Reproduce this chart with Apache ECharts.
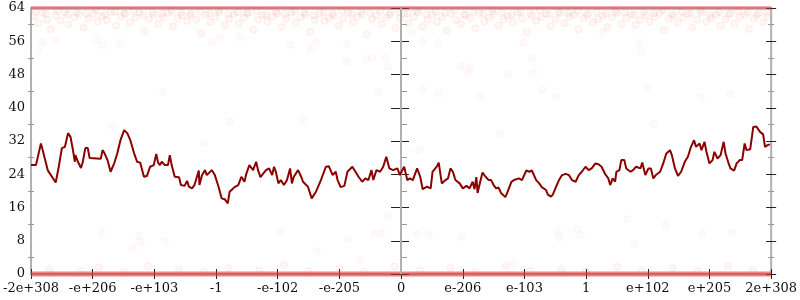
<!DOCTYPE html>
<html>
<head>
<meta charset="utf-8">
<script src="https://cdn.jsdelivr.net/npm/echarts@6/dist/echarts.min.js"></script>
<style>html,body{margin:0;padding:0;background:#fff}#c{width:800px;height:300px}</style>
</head>
<body>
<div id="c"></div>
<script>
var xTickLabels = ['-2e+308','-e+206','-e+103','-1','-e-102','-e-205','0','e-206','e-103','1','e+102','e+205','2e+308'];
var yTicks = [0, 8, 16, 24, 32, 40, 48, 56, 64];

var lineX = [-6.00,-5.92,-5.84,-5.81,-5.73,-5.60,-5.55,-5.50,-5.45,-5.40,-5.37,-5.36,-5.32,-5.29,-5.28,-5.24,-5.19,-5.16,-5.12,-5.08,-5.05,-4.87,-4.84,-4.81,-4.76,-4.71,-4.65,-4.60,-4.55,-4.49,-4.44,-4.39,-4.33,-4.28,-4.23,-4.17,-4.12,-4.07,-4.01,-3.97,-3.94,-3.91,-3.88,-3.83,-3.78,-3.75,-3.72,-3.67,-3.60,-3.57,-3.51,-3.47,-3.44,-3.39,-3.35,-3.28,-3.27,-3.23,
-3.18,-3.15,-3.07,-3.02,-2.96,-2.91,-2.86,-2.81,-2.78,-2.70,-2.64,-2.59,-2.54,-2.51,-2.46,-2.40,-2.35,-2.32,-2.28,-2.24,-2.19,-2.14,-2.09,-2.06,-2.03,-1.99,-1.95,-1.90,-1.85,-1.80,-1.77,-1.74,-1.67,-1.62,-1.59,-1.56,-1.51,-1.45,-1.38,-1.30,-1.22,-1.17,-1.11,-1.06,-1.03,-0.98,-0.92,-0.87,-0.79,-0.74,-0.69,-0.63,-0.58,-0.53,-0.48,-0.45,-0.40,-0.34,-0.29,-0.24,-0.19,-0.13,-0.06,-0.02,
0.05,0.10,0.14,0.19,0.26,0.31,0.35,0.42,0.48,0.51,0.58,0.61,0.66,0.72,0.76,0.80,0.84,0.88,0.95,1.00,1.06,1.11,1.16,1.19,1.22,1.24,1.27,1.32,1.37,1.42,1.46,1.50,1.54,1.58,1.62,1.69,1.72,1.79,1.83,1.91,1.96,2.03,2.08,2.12,2.19,2.24,2.28,2.35,2.38,2.43,2.46,2.51,2.56,2.61,2.67,2.72,2.77,2.83,2.88,2.93,2.99,3.04,3.09,3.15,3.20,
3.25,3.31,3.36,3.39,3.43,3.47,3.49,3.54,3.57,3.62,3.65,3.72,3.76,3.81,3.88,3.91,3.96,4.01,4.05,4.09,4.13,4.20,4.25,4.30,4.36,4.39,4.44,4.49,4.54,4.60,4.65,4.70,4.75,4.78,4.84,4.87,4.92,4.95,5.00,5.05,5.08,5.13,5.18,5.23,5.26,5.31,5.34,5.40,5.44,5.49,5.53,5.57,5.60,5.66,5.71,5.76,5.82,5.87,5.90,5.94,5.98];
var lineY = [26.2,26.2,31.4,29.8,25.0,22.0,25.8,30.3,30.6,33.9,34.2,33.0,29.8,27.0,28.6,27.0,25.5,27.0,30.3,30.3,27.9,27.7,29.8,29.1,27.4,24.6,26.7,29.1,32.2,34.6,33.9,32.2,29.1,27.0,26.8,23.4,23.6,25.8,26.2,28.9,26.8,26.2,27.0,26.2,26.2,28.6,26.2,23.4,23.3,21.4,21.2,22.4,21.0,20.6,21.4,24.9,21.4,23.7,
25.0,23.8,25.0,23.8,21.0,18.2,18.0,17.0,19.8,20.9,21.4,23.4,22.2,24.1,26.2,25.0,27.0,25.0,23.3,24.1,25.0,25.4,23.8,25.8,24.6,21.8,22.6,21.4,22.6,25.4,21.8,23.4,25.0,23.4,22.2,22.6,21.0,18.2,19.8,22.6,25.8,25.9,23.8,24.6,22.6,20.9,21.2,24.6,25.8,24.6,23.4,22.2,23.0,22.6,25.0,22.6,25.0,24.6,25.8,28.2,25.4,25.0,25.4,23.8,
25.8,22.6,23.0,22.6,25.4,23.4,20.4,21.0,20.6,24.6,25.9,26.8,21.8,22.6,23.0,25.4,24.6,22.6,21.8,20.6,21.2,20.6,22.2,20.4,23.3,19.5,21.4,24.4,23.4,22.6,22.6,21.4,20.6,20.8,19.5,18.5,19.5,22.2,22.6,23.0,22.6,24.9,24.6,24.9,22.6,21.8,20.9,20.2,19.1,18.6,19.1,20.9,22.6,23.8,24.1,23.8,22.6,22.2,23.8,24.6,25.8,25.0,25.4,26.6,26.4,
25.8,24.0,23.0,21.4,23.0,22.2,24.6,25.0,27.4,27.4,25.4,24.6,25.0,25.8,25.4,26.8,23.8,25.4,25.4,23.0,23.8,24.6,26.6,29.0,29.8,28.6,25.4,23.6,24.6,27.0,28.2,30.6,32.2,30.6,31.4,29.8,31.8,29.4,26.6,27.4,29.4,27.8,28.6,31.8,29.0,26.6,25.4,24.9,26.6,27.4,27.4,31.4,29.8,30.0,35.4,35.5,34.2,33.6,30.6,31.0,31.2];

var bandBottom = [[-6, 0], [6, 0]];
var bandTop = [[-6, 64], [6, 64]];

var topCluster = [[-5.95,62.1],[-5.88,60.4],[-5.81,62.8],[-5.74,61.2],[-5.68,58.9],[-5.6,62.3],[-5.52,61.0],[-5.45,62.9],[-5.39,60.1],[-5.3,61.8],[-5.22,62.5],[-5.15,59.3],[-5.07,61.4],[-4.99,62.7],[-4.92,60.7],[-4.85,62.0],[-4.77,61.1],[-4.7,63.0],[-4.62,59.8],[-4.55,61.9],[-4.47,62.6],[-4.4,60.5],[-4.31,61.6],[-4.24,62.9],[-4.16,58.4],[-4.09,61.3],[-4.01,62.4],[-3.93,60.2],[-3.86,61.8],[-3.78,62.8],[-3.7,59.6],[-3.63,61.5],[-3.55,62.2],[-3.47,60.9],[-3.4,62.7],[-3.32,61.2],[-3.25,57.9],[-3.17,62.4],[-3.09,60.6],[-3.01,61.9],[-2.94,62.9],[-2.86,59.9],[-2.79,61.4],[-2.71,62.5],[-2.63,60.3],[-2.55,61.7],[-2.48,62.8],[-2.4,58.8],[-2.32,61.2],[-2.25,62.3],[-2.17,60.8],[-2.09,61.9],[-2.01,62.6],[-1.94,59.4],[-1.86,61.5],[-1.78,62.9],[-1.71,60.4],[-1.63,61.8],[-1.55,62.4],[-1.47,58.2],[-1.4,61.1],[-1.32,62.7],[-1.24,60.9],[-1.17,61.6],[-1.09,62.2],[-1.01,59.7],[-0.94,61.4],[-0.86,62.8],[-0.78,60.6],[-0.71,61.9],[-0.63,62.5],[-0.55,57.6],[-0.47,61.3],[-0.4,62.2],[-0.32,60.1],[-0.24,61.7],[-0.17,62.9],[-0.09,59.2],[-0.02,61.5],
[0.05,62.6],[0.12,60.3],[0.2,61.8],[0.28,62.9],[0.35,59.5],[0.43,61.2],[0.51,62.4],[0.58,60.7],[0.66,61.9],[0.74,58.6],[0.81,62.7],[0.89,61.1],[0.97,60.2],[1.04,62.3],[1.12,61.6],[1.2,59.1],[1.27,62.8],[1.35,60.8],[1.43,61.7],[1.5,62.5],[1.58,59.8],[1.66,61.3],[1.73,62.1],[1.81,60.5],[1.89,62.9],[1.96,61.4],[2.04,58.3],[2.12,62.2],[2.19,60.9],[2.27,61.8],[2.35,62.6],[2.42,59.6],[2.5,61.2],[2.58,62.8],[2.65,60.3],[2.73,61.9],[2.81,62.4],[2.88,58.9],[2.96,61.5],[3.04,62.7],[3.11,60.6],[3.19,61.3],[3.27,62.2],[3.34,59.4],[3.42,61.8],[3.5,62.9],[3.57,60.1],[3.65,61.6],[3.73,62.5],[3.8,59.9],[3.88,61.1],[3.96,62.3],[4.03,60.7],[4.11,61.9],[4.19,62.8],[4.26,58.7],[4.34,61.4],[4.42,62.1],[4.49,60.4],[4.57,61.7],[4.65,62.6],[4.72,59.3],[4.8,61.2],[4.88,62.9],[4.95,60.8],[5.03,61.6],[5.11,62.4],[5.18,59.7],[5.26,61.3],[5.34,62.7],[5.41,60.2],[5.49,61.8],[5.57,62.3],[5.64,59.0],[5.72,61.5],[5.8,62.8],[5.87,60.6],[5.94,61.9]];

var topRow = [[-5.92,63.1],[-5.76,62.6],[-5.57,63.3],[-5.41,62.4],[-5.26,63.0],[-5.1,62.7],[-4.95,63.4],[-4.8,62.5],[-4.64,63.1],[-4.49,62.8],[-4.34,63.3],[-4.18,62.4],[-4.03,63.0],[-3.88,62.6],[-3.72,63.2],[-3.57,62.9],[-3.42,62.3],[-3.26,63.1],[-3.11,62.7],[-2.96,63.4],[-2.8,62.5],[-2.65,63.0],[-2.5,62.8],[-2.34,63.3],[-2.19,62.4],[-2.03,63.1],[-1.88,62.6],[-1.73,63.2],[-1.57,62.9],[-1.42,62.3],[-1.26,63.0],[-1.11,62.7],[-0.96,63.4],[-0.8,62.5],[-0.65,63.1],[-0.5,62.8],[-0.34,63.3],[-0.19,62.4],[-0.04,63.0],
[0.1,62.7],[0.25,63.3],[0.41,62.5],[0.56,63.1],[0.71,62.8],[0.87,63.4],[1.02,62.4],[1.17,63.0],[1.33,62.6],[1.48,63.2],[1.63,62.9],[1.79,62.3],[1.94,63.1],[2.09,62.7],[2.25,63.4],[2.4,62.5],[2.55,63.0],[2.71,62.8],[2.86,63.3],[3.01,62.4],[3.17,63.1],[3.32,62.6],[3.47,63.2],[3.63,62.9],[3.78,62.3],[3.93,63.0],[4.09,62.7],[4.24,63.4],[4.39,62.5],[4.55,63.1],[4.7,62.8],[4.85,63.3],[5.01,62.4],[5.16,63.0],[5.31,62.6],[5.47,63.2],[5.62,62.9],[5.77,62.3],[5.92,63.1]];

var sparsePoints = [[-5.88,53.7],[-5.81,55.8],[-5.6,56.3],[-4.92,56.3],[-4.83,55.1],[-4.55,55.6],[-3.86,43.8],[-3.07,55.9],[-2.94,57.0],[-2.62,57.0],[-1.79,55.1],[-1.48,54.4],[-1.38,55.8],[-0.88,51.0],[-0.87,55.3],[-0.56,51.7],[-0.47,52.0],[-0.24,52.0],[-0.22,49.8],[-0.37,43.8],
[0.18,58.0],[0.35,56.0],[0.61,55.6],[0.97,50.0],[1.11,49.8],[1.09,48.4],[1.98,55.6],[2.14,48.4],[2.12,52.0],[1.74,48.1],[0.35,44.5],[0.61,43.5],[1.27,42.6],[2.28,44.3],[2.51,42.6],[3.27,58.2],[3.89,53.7],[3.86,55.6],[3.99,44.8],[4.86,42.6],[5.34,43.3],
[-4.68,35.8],[-2.78,36.6],[-4.86,9.9],[-4.25,9.2],[-4.22,7.7],[-4.35,6.3],[-3.83,7.9],[-1.96,10.1],[-1.37,5.5],[-0.87,8.4],[-0.43,9.6],[-0.32,9.9],[-0.66,3.4],[-0.21,13.9],
[0.26,9.6],[0.45,9.4],[0.98,8.9],[1.82,2.4],[2.53,10.3],[2.57,8.9],[2.85,10.8],[2.91,9.4],[3.67,13.2],[4.3,12.0],[4.89,9.6],[5.36,9.9],[3.78,7.2],[0.29,29.8],[-3.2,31.5],[-1.6,37.2],[1.6,33.8],[4.1,36.1]];

var bottomHalo = [[-5.7,1.2],[-5.2,0.8],[-4.9,1.6],[-4.5,0.6],[-4.1,1.9],[-3.6,1.0],[-3.2,0.5],[-2.8,1.4],[-2.3,0.9],[-1.9,2.2],[-1.5,0.7],[-1.0,1.3],[-0.6,0.6],[-0.1,1.8],[0.3,0.9],[0.8,1.5],[1.2,0.6],[1.7,2.0],[2.1,0.8],[2.6,1.2],[3.0,0.5],[3.5,1.7],[3.9,0.9],[4.4,1.4],[4.8,0.7],[5.3,1.9],[5.7,1.0]];

var lineData = lineX.map(function (x, i) { return [x, lineY[i]]; });
var FONT = 'DejaVu Serif';

function yAx(pos, offset, major, minor, labels) {
  return {
    type: 'value', position: pos, offset: offset, min: 0, max: 64, interval: 8,
    axisLine: { show: false },
    splitLine: { show: false },
    axisTick: { show: major, length: 10, lineStyle: { color: '#222', width: 1 } },
    minorTick: { show: minor, splitNumber: 2, length: 6, lineStyle: { color: '#999', width: 1 } },
    axisLabel: { show: labels, margin: 11, fontFamily: FONT, fontSize: 13, color: '#111' }
  };
}

var chart = echarts.init(document.getElementById('c'), null, { renderer: 'canvas' });
var scatterStyle = { color: 'rgba(255,90,90,0.07)', borderColor: 'rgba(255,70,70,0.10)', borderWidth: 1 };
chart.setOption({
  animation: false,
  backgroundColor: '#fff',
  grid: { left: 28, right: 26, top: 8, bottom: 26, show: true, borderColor: '#b0b0b0', borderWidth: 2, backgroundColor: 'transparent' },
  xAxis: [{
    type: 'value', position: 'bottom', offset: -5, min: -6, max: 6, interval: 1,
    axisLine: { show: false }, splitLine: { show: false },
    axisTick: { show: true, length: 10, lineStyle: { color: '#222', width: 1 } },
    axisLabel: { margin: 13, fontFamily: FONT, fontSize: 13, color: '#111', showMinLabel: true, showMaxLabel: true,
      formatter: function (v) { return xTickLabels[Math.round(v) + 6]; } }
  }],
  yAxis: [
    yAx('left', -5, true, false, true),
    yAx('left', -3, false, true, false),
    yAx('left', -378, true, false, false),
    yAx('left', -376, false, true, false),
    yAx('right', -5, true, false, false),
    yAx('right', -3, false, true, false)
  ],
  series: [
    { type: 'line', data: bandBottom, symbol: 'none', clip: false, z: 2, silent: true,
      lineStyle: { color: 'rgba(228,50,50,0.6)', width: 5 },
      markLine: { silent: true, symbol: 'none', label: { show: false },
        lineStyle: { color: '#b0b0b0', width: 2, type: 'solid' }, data: [{ xAxis: 0 }] } },
    { type: 'line', data: bandTop, symbol: 'none', clip: false, z: 2, silent: true,
      lineStyle: { color: 'rgba(230,70,70,0.45)', width: 4 } },
    { type: 'scatter', data: topCluster, symbolSize: 7, clip: false, z: 3, itemStyle: scatterStyle },
    { type: 'scatter', data: topRow, symbolSize: 7, clip: false, z: 3, itemStyle: scatterStyle },
    { type: 'scatter', data: sparsePoints, symbolSize: 7, clip: false, z: 3, itemStyle: { color: 'rgba(255,90,90,0.04)', borderColor: 'rgba(255,60,60,0.05)', borderWidth: 1 } },
    { type: 'scatter', data: bottomHalo, symbolSize: 7, clip: false, z: 3, itemStyle: scatterStyle },
    { type: 'line', data: lineData, symbol: 'none', z: 10,
      lineStyle: { color: '#8b0000', width: 2 } }
  ]
});
</script>
</body>
</html>
